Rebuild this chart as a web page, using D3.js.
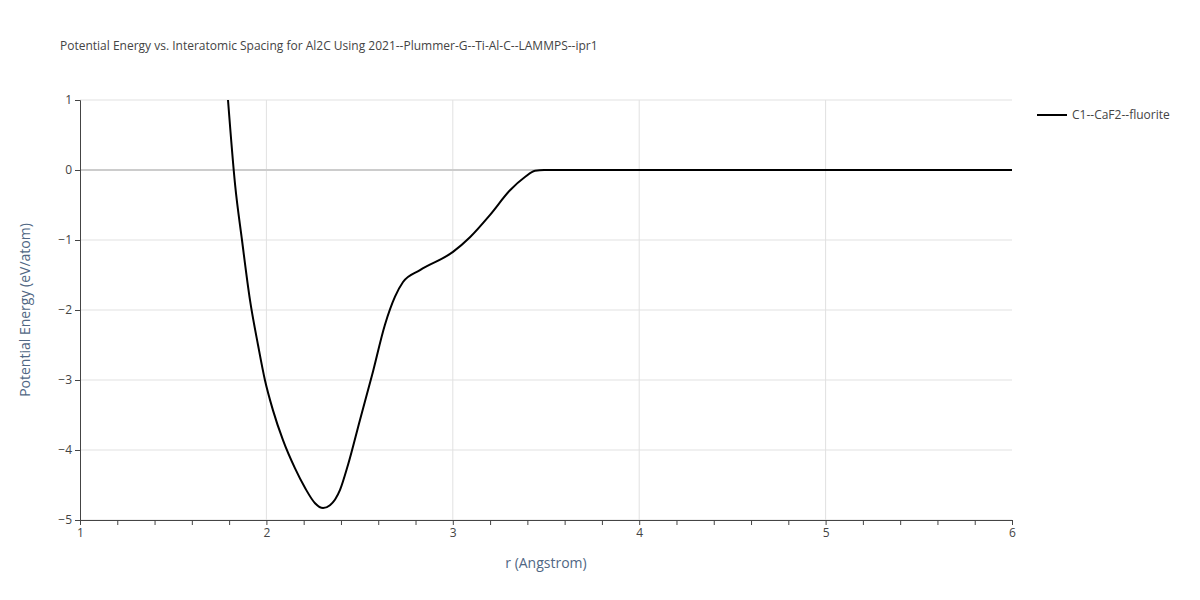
<!DOCTYPE html>
<html><head><meta charset="utf-8">
<script src="https://cdn.jsdelivr.net/npm/d3@7"></script>
<style>body{margin:0;background:#fff}text{font-family:"Open Sans",Arial,sans-serif}</style>
</head><body><svg id="chart" width="1200" height="600"></svg>
<script>
// curve
var rVals = [1.794,1.832,1.869,1.912,1.955,1.992,2.035,2.089,2.153,2.207,2.261,2.304,2.341,2.395,2.438,2.502,2.567,2.636,2.690,2.733,2.824,3.001,3.092,3.2,3.307,3.387,3.441,3.49,4,5,6];
var eVals = [1,-0.21,-1.0,-1.86,-2.5,-3.0,-3.43,-3.86,-4.26,-4.54,-4.76,-4.83,-4.79,-4.57,-4.21,-3.57,-2.93,-2.21,-1.81,-1.6,-1.43,-1.17,-0.96,-0.64,-0.29,-0.1,-0.01,0,0,0,0];
var xTicks = [1,2,3,4,5,6];
var yTicks = [1,0,-1,-2,-3,-4,-5];
var seriesName = "C1--CaF2--fluorite";

var svg = d3.select("#chart");
var pLeft = 80, pRight = 1012, pTop = 100, pBottom = 520;
var x = d3.scaleLinear().domain([1,6]).range([pLeft,pRight]);
var y = d3.scaleLinear().domain([-5,1]).range([pBottom,pTop]);

var grid = svg.append("g");
xTicks.slice(1,-1).forEach(function(t){
	grid.append("line").attr("x1",x(t)).attr("x2",x(t)).attr("y1",pTop).attr("y2",pBottom)
	.attr("stroke","#e1e1e1");
});
yTicks.forEach(function(t){
	grid.append("line").attr("x1",pLeft).attr("x2",pRight).attr("y1",y(t)).attr("y2",y(t))
	.attr("stroke",t==0?"#cccccc":"#e1e1e1").attr("stroke-width",t==0?2:1);
});

var clip = svg.append("clipPath").attr("id","clip");
clip.append("rect").attr("x",pLeft).attr("y",pTop).attr("width",pRight-pLeft).attr("height",pBottom-pTop);

var line = d3.line().x(function(d,i){return x(rVals[i]);}).y(function(d){return y(d);}).curve(d3.curveMonotoneX);
svg.append("path").datum(eVals).attr("d",line).attr("fill","none")
	.attr("stroke","#000").attr("stroke-width",2).attr("clip-path","url(#clip)");

var xAxis = svg.append("g").attr("transform","translate(0,"+pBottom+")")
	.call(d3.axisBottom(x).tickValues(d3.range(1,6.01,0.2)).tickSize(5).tickFormat(function(d){
		return Math.abs(d-Math.round(d))<1e-6 ? d3.format("d")(Math.round(d)) : "";
	}));
xAxis.select(".domain").attr("stroke","#444");
xAxis.selectAll("line").attr("stroke","#444");
xAxis.selectAll("text").attr("fill","#444").style("font-size","12px");

var yAxis = svg.append("g").attr("transform","translate("+pLeft+",0)")
	.call(d3.axisLeft(y).tickValues(yTicks).tickSize(5).tickFormat(function(d){return d<0?"\u2212"+(-d):d;}));
yAxis.select(".domain").attr("stroke","#444");
yAxis.selectAll("line").attr("stroke","#444");
yAxis.selectAll("text").attr("fill","#444").style("font-size","12px");

svg.append("text").attr("x",60).attr("y",50).attr("fill","#444").style("font-size","12px")
	.text("Potential Energy vs. Interatomic Spacing for Al2C Using 2021--Plummer-G--Ti-Al-C--LAMMPS--ipr1");
svg.append("text").attr("x",546).attr("y",568).attr("text-anchor","middle").attr("fill","#506784")
	.style("font-size","14px").text("r (Angstrom)");
svg.append("text").attr("transform","translate(30,310) rotate(-90)").attr("text-anchor","middle")
	.attr("fill","#506784").style("font-size","14px").text("Potential Energy (eV/atom)");

var legend = svg.append("g").attr("transform","translate(1037,115)");
legend.append("line").attr("x1",0).attr("x2",30).attr("stroke","#000").attr("stroke-width",2);
legend.append("text").attr("x",35).attr("y",4).attr("fill","#444").style("font-size","12px").text(seriesName);
</script></body></html>
